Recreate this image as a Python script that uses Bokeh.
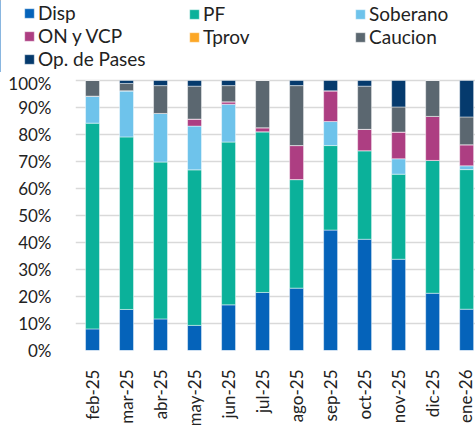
from bokeh.plotting import figure
from bokeh.layouts import column
from bokeh.models import ColumnDataSource, Range1d, FixedTicker, Legend, LegendItem
from bokeh.embed import file_html
from bokeh.resources import INLINE
import math

months = ["feb-25", "mar-25", "abr-25", "may-25", "jun-25", "jul-25",
          "ago-25", "sep-25", "oct-25", "nov-25", "dic-25", "ene-26"]
disp     = [8.0, 15.2, 11.7, 9.3, 16.9, 21.5, 23.1, 44.6, 41.2, 33.8, 21.2, 15.3]
pf       = [76.2, 63.9, 58.1, 57.6, 60.3, 59.5, 40.2, 31.3, 32.8, 31.5, 49.2, 51.7]
soberano = [10.0, 17.1, 18.0, 16.2, 14.0, 0.0, 0.0, 8.9, 0.0, 5.7, 0.0, 1.4]
on_vcp   = [0.0, 0.0, 0.0, 2.6, 0.9, 1.5, 12.6, 11.4, 7.9, 9.9, 16.3, 7.8]
tprov    = [0.0, 0.0, 0.0, 0.0, 0.0, 0.0, 0.0, 0.0, 0.0, 0.0, 0.0, 0.0]
caucion  = [5.8, 2.7, 10.3, 12.2, 6.0, 17.5, 22.2, 0.0, 16.0, 9.3, 13.3, 10.3]
pases    = [0.0, 1.1, 1.9, 2.1, 1.9, 0.0, 1.9, 3.8, 2.1, 9.8, 0.0, 13.5]

series_names = ["Disp", "PF", "Soberano", "ON y VCP", "Tprov", "Caucion", "Op. de Pases"]
colors = ["#0563BA", "#0BB19A", "#6EC3EB", "#AD3E82", "#FCA726", "#5B6770", "#053A6D"]
y_ticks = [0, 10, 20, 30, 40, 50, 60, 70, 80, 90, 100]
y_tick_labels = ["0%", "10%", "20%", "30%", "40%", "50%", "60%", "70%", "80%", "90%", "100%"]

keys = ["s0", "s1", "s2", "s3", "s4", "s5", "s6"]
xs = list(range(len(months)))
source = ColumnDataSource(dict(x=xs, s0=disp, s1=pf, s2=soberano, s3=on_vcp,
                               s4=tprov, s5=caucion, s6=pases))

FONT = "Lato"
BAR_STYLE = dict(width=0.41, color=colors, line_color="white", line_alpha=0.45, line_width=1)

# ---------- main chart ----------
p = figure(width=475, height=374, output_backend="svg", toolbar_location=None,
           x_range=Range1d(-0.5, 11.26), y_range=Range1d(0, 102.96),
           min_border_left=75, min_border_right=0, min_border_top=0,
           min_border_bottom=96, frame_align=False)
p.outline_line_color = None
p.background_fill_color = "white"
p.border_fill_color = "white"

p.vbar_stack(keys, x="x", source=source, **BAR_STYLE)

p.xaxis.ticker = FixedTicker(ticks=xs)
p.xaxis.major_label_overrides = {i: m for i, m in enumerate(months)}
p.xaxis.major_label_orientation = math.pi / 2
p.xaxis.axis_line_color = None
p.xaxis.major_tick_line_color = None
p.xaxis.minor_tick_line_color = None
p.xaxis.major_label_standoff = 13
p.xaxis.major_label_text_font = FONT
p.xaxis.major_label_text_font_size = "17px"
p.xaxis.major_label_text_color = "#222222"

p.yaxis.ticker = FixedTicker(ticks=y_ticks)
p.yaxis.major_label_overrides = {t: l for t, l in zip(y_ticks, y_tick_labels)}
p.yaxis.axis_line_color = None
p.yaxis.major_tick_line_color = None
p.yaxis.minor_tick_line_color = None
p.yaxis.major_label_standoff = 18
p.yaxis.major_label_text_font = FONT
p.yaxis.major_label_text_font_size = "17px"
p.yaxis.major_label_text_color = "#222222"

p.xgrid.grid_line_color = None
p.ygrid.grid_line_color = "#D9D9D9"
p.ygrid.grid_line_width = 1.5

# ---------- legend strip (same series, viewed outside their range) ----------
lf = figure(width=475, height=72, output_backend="svg", toolbar_location=None,
            x_range=Range1d(100, 101), y_range=Range1d(0, 1),
            x_axis_location=None, y_axis_location=None,
            min_border_left=0, min_border_right=0, min_border_top=0,
            min_border_bottom=0, frame_align=False)
lf.outline_line_color = None
lf.grid.visible = False
lf.border_fill_color = "white"
lf.background_fill_color = "white"
leg_renderers = lf.vbar_stack(keys, x="x", source=source, **BAR_STYLE)

columns_idx = [[0, 3, 6], [1, 4], [2, 5]]
col_x = [23, 188, 354]
for col, cx in zip(columns_idx, col_x):
    items = [LegendItem(label=series_names[i], renderers=[leg_renderers[i]]) for i in col]
    bottom = 72 - (4 + 22 * len(col))
    lg = Legend(items=items, location=(cx, bottom), orientation="vertical",
                glyph_width=12, glyph_height=12, label_standoff=3,
                label_height=22, spacing=0, padding=0, margin=0,
                label_text_font=FONT, label_text_font_size="19px",
                label_text_color="#222222", border_line_color=None,
                background_fill_alpha=0)
    lf.add_layout(lg, "center")

layout = column(lf, p, spacing=0)
open("out.html", "w").write(file_html(layout, INLINE))
